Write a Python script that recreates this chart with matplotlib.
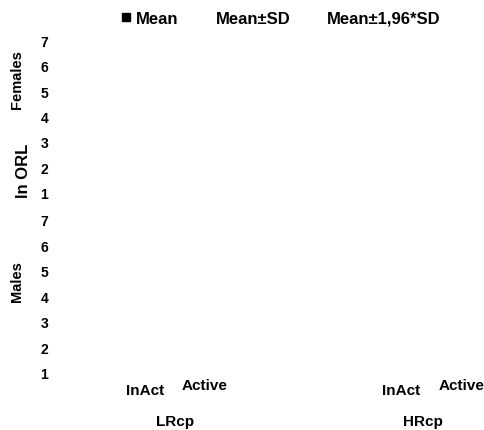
import matplotlib
matplotlib.use("Agg")
import matplotlib.pyplot as plt
from matplotlib.lines import Line2D

plt.rcParams["font.family"] = ["Liberation Sans", "DejaVu Sans"]
plt.rcParams["font.weight"] = "bold"

# data / labels
sexes = ["Females", "Males"]
y_ticks = [1, 2, 3, 4, 5, 6, 7]
groups = ["LRcp", "HRcp"]
activity = ["InAct", "Active"]
legend_labels = ["Mean", "Mean±SD", "Mean±1,96*SD"]
y_label = "ln ORL"

# layout (pixels of a 485x431 figure)
W, H = 485, 431
fig = plt.figure(figsize=(W / 100, H / 100), dpi=100)

left, right = 55, 485
panels = [(28.25, 206.75), (208.25, 386.75)]
x_pos = {("LRcp", "InAct"): 1.0, ("LRcp", "Active"): 2.0,
         ("HRcp", "InAct"): 5.34, ("HRcp", "Active"): 6.36}
group_pos = {"LRcp": 1.5, "HRcp": 5.71}
label_y = {"Females": 0.71, "Males": 0.587}

axes = []
for sex, (top, bot) in zip(sexes, panels):
    ax = fig.add_axes([left / W, 1 - bot / H, (right - left) / W, (bot - top) / H])
    ax.set_xlim(-0.53, 6.76)
    ax.set_ylim(0.5, 7.5)
    ax.set_yticks(y_ticks)
    ax.set_yticklabels([str(t) for t in y_ticks], fontsize=10, fontweight="bold")
    ax.tick_params(axis="y", length=0, pad=5)
    ax.set_xticks([])
    for s in ax.spines.values():
        s.set_visible(False)
    ax.set_ylabel(sex, fontsize=10.5, fontweight="bold")
    ax.yaxis.set_label_coords(-0.071, label_y[sex])
    axes.append(ax)

ax_top, ax_bot = axes

# legend: only the mean marker is visible
h_mean, = ax_top.plot([], [], "s", color="black", markersize=5.5, label=legend_labels[0])
h_sd = Line2D([], [], color="none", label=legend_labels[1])
h_ci = Line2D([], [], color="none", label=legend_labels[2])
fig.legend(handles=[h_mean, h_sd, h_ci], loc="center left",
           bbox_to_anchor=(113 / W, 1 - 19 / H), ncol=3, frameon=False,
           borderpad=0, handlelength=0.6, handletextpad=0.3, columnspacing=1.3,
           prop={"size": 12, "weight": "bold"})

# category labels under the bottom panel
for g in groups:
    for a in activity:
        dy = -3 if a == "InAct" else 0.5
        ax_bot.annotate(a, xy=(x_pos[(g, a)], 0), xycoords=("data", "axes fraction"),
                        xytext=(0, dy), textcoords="offset points",
                        ha="center", va="center", fontsize=11, fontweight="bold")
    ax_bot.annotate(g, xy=(group_pos[g], 0), xycoords=("data", "axes fraction"),
                    xytext=(0, -25.5), textcoords="offset points",
                    ha="center", va="center", fontsize=11, fontweight="bold")

fig.text(24 / W, 1 - 171 / H, y_label, rotation=90, ha="center", va="center",
         fontsize=12, fontweight="bold")

fig.savefig("out.png", dpi=100)
